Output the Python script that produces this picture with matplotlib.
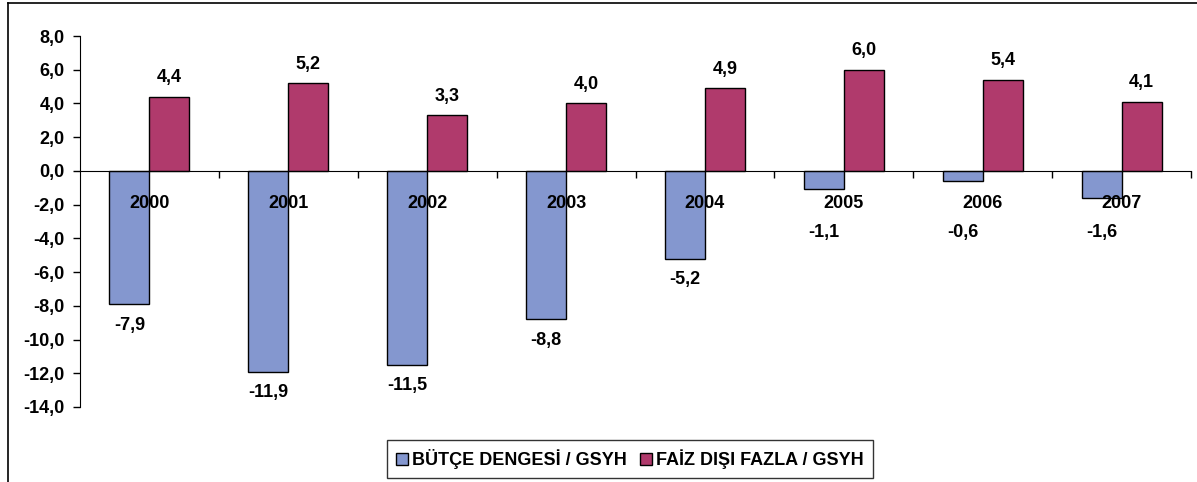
"""
Butce dengesi ve faiz disi fazla / GSYH bar chart (2000-2007)
"""

import matplotlib.pyplot as plt
import matplotlib.lines as mlines
from matplotlib.patches import Patch
import numpy as np

#---------------------------------------------------------------------------------------------------
# Data
#---------------------------------------------------------------------------------------------------

years = ['2000', '2001', '2002', '2003', '2004', '2005', '2006', '2007']
butce_dengesi = [-7.9, -11.9, -11.5, -8.8, -5.2, -1.1, -0.6, -1.6]
faiz_disi_fazla = [4.4, 5.2, 3.3, 4.0, 4.9, 6.0, 5.4, 4.1]

series_names = ['BÜTÇE DENGESİ / GSYH', 'FAİZ DIŞI FAZLA / GSYH']
colors = ['#8497CF', '#B03A6C']

#---------------------------------------------------------------------------------------------------
# Plot
#---------------------------------------------------------------------------------------------------

plt.rcParams['font.family'] = ['Liberation Sans', 'DejaVu Sans']
plt.rcParams['font.weight'] = 'bold'
fsize = 13

def fmt(v):
    return ('%.1f' % v).replace('.', ',')

W, H = 1197, 482
fig = plt.figure(figsize=(W/100, H/100), dpi=100)
ax = fig.add_axes([80/W, (H-407)/H, (1191-80)/W, (407-36)/H])

x = np.arange(len(years))
bw = 0.288
ax.bar(x - bw/2, butce_dengesi, width=bw, color=colors[0], edgecolor='k', lw=1, zorder=2)
ax.bar(x + bw/2, faiz_disi_fazla, width=bw, color=colors[1], edgecolor='k', lw=1, zorder=2)

ax.set_xlim(-0.5, len(years) - 0.5)
ax.set_ylim(-14, 8)
ax.set_yticks(np.arange(-14, 8.1, 2))
ax.set_yticklabels([fmt(t) for t in np.arange(-14, 8.1, 2)], fontsize=fsize, fontweight='bold')
ax.set_xticks(x + 0.5)
ax.set_xticklabels([])
ax.tick_params(axis='y', direction='out', length=5, width=1, pad=6)
ax.tick_params(axis='x', direction='out', length=5, width=1)

for s in ['top', 'right']:
    ax.spines[s].set_visible(False)
ax.spines['bottom'].set_position(('data', 0))
ax.spines['bottom'].set_zorder(3)

# Year labels and value labels
for i, yr in enumerate(years):
    ax.text(i, -1.95, yr, ha='center', va='center', fontsize=fsize, fontweight='bold', zorder=4)
    vb = butce_dengesi[i]
    ax.text(i - bw/2, min(vb - 1.25, -3.67), fmt(vb), ha='center', va='center',
            fontsize=fsize, fontweight='bold')
    vf = faiz_disi_fazla[i]
    ax.text(i + bw/2, vf + 1.13, fmt(vf), ha='center', va='center',
            fontsize=fsize, fontweight='bold')

# Legend
handles = [Patch(facecolor=colors[0], edgecolor='k', lw=1),
           Patch(facecolor=colors[1], edgecolor='k', lw=1)]
leg = fig.legend(handles, series_names, loc='center', bbox_to_anchor=(630/W, 1 - 459/H),
                 ncol=2, frameon=True, fancybox=False, edgecolor='k',
                 handlelength=0.65, handleheight=0.65, handletextpad=0.25, columnspacing=0.7,
                 borderpad=0.5, borderaxespad=0, prop={'weight':'bold', 'size':fsize})
leg.get_frame().set_linewidth(1)

# Outer chart border
fig.add_artist(mlines.Line2D([8/W, 8/W], [0, 1 - 3/H], color='k', lw=1.2))
fig.add_artist(mlines.Line2D([8/W, 1], [1 - 3/H, 1 - 3/H], color='k', lw=1.2))

plt.savefig('out.png', dpi=100)
plt.close()
